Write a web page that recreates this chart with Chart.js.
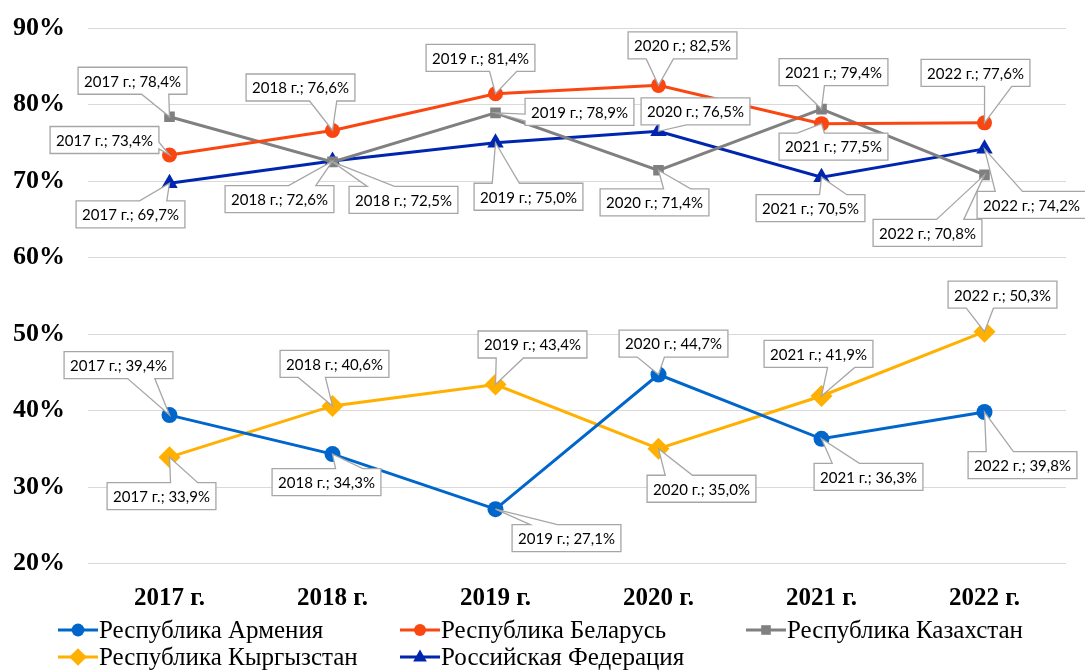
<!DOCTYPE html>
<html>
<head>
<meta charset="utf-8">
<script src="https://cdn.jsdelivr.net/npm/chart.js@4/dist/chart.umd.min.js"></script>
<style>
  html, body { margin: 0; padding: 0; background: #fff; }
  #wrap { width: 1085px; height: 671px; }
</style>
</head>
<body>
<div id="wrap"><canvas id="mycanvas" width="1085" height="671"></canvas></div>
<script>
// categories
var years = ['2017 г.', '2018 г.', '2019 г.', '2020 г.', '2021 г.', '2022 г.'];

// series values, %
var armenia    = [39.4, 34.3, 27.1, 44.7, 36.3, 39.8];
var belarus    = [73.4, 76.6, 81.4, 82.5, 77.5, 77.6];
var kazakhstan = [78.4, 72.5, 78.9, 71.4, 79.4, 70.8];
var kyrgyzstan = [33.9, 40.6, 43.4, 35.0, 41.9, 50.3];
var russia     = [69.7, 72.6, 75.0, 76.5, 70.5, 74.2];

var seriesNames = ['Республика Армения', 'Республика Беларусь', 'Республика Казахстан',
                   'Республика Кыргызстан', 'Российская Федерация'];

// y ticks
var yMin = 20, yMax = 90, yStep = 10;

// where each callout box sits relative to its point (px)
var calloutShift = [
    [[-51,-50], [-6,28], [71,29], [15,-31], [47,38], [38,53]],
    [[-65,-15], [-32,-43], [-15,-36], [24,-40], [12,23], [-9,-50]],
    [[-37,-36], [71,38], [84,-1], [-4,32], [12,-37], [-57,58]],
    [[-8,39], [2,-42], [37,-40], [43,40], [-3,-42], [18,-37]],
    [[-39,31], [-53,38], [33,54], [37,-20], [-11,31], [47,56]]
];

// legend slots
var legendPos = [[58,630], [400,630], [746,630], [58,657], [400,657]];

function fmt(v) { return v.toFixed(1).replace('.', ',') + '%'; }

function drawMarker(ctx, style, x, y, r, color) {
    ctx.save();
    ctx.fillStyle = color;
    ctx.beginPath();
    if (style == 'circle') {
        ctx.arc(x, y, r, 0, Math.PI * 2);
    } else if (style == 'rect') {
        ctx.rect(x - r * 0.8, y - r * 0.8, r * 1.6, r * 1.6);
    } else if (style == 'rectRot') {
        ctx.moveTo(x, y - r); ctx.lineTo(x + r, y); ctx.lineTo(x, y + r); ctx.lineTo(x - r, y);
    } else if (style == 'triangle') {
        ctx.moveTo(x, y - r); ctx.lineTo(x + r * 0.9, y + r * 0.6); ctx.lineTo(x - r * 0.9, y + r * 0.6);
    }
    ctx.closePath();
    ctx.fill();
    ctx.restore();
}

// Excel-like wedge callouts
var callouts = {
    id: 'callouts',
    afterDatasetsDraw: function(chart) {
        var ctx = chart.ctx;
        ctx.save();
        ctx.font = '15px Lato';
        ctx.textAlign = 'center';
        ctx.textBaseline = 'middle';
        chart.data.datasets.forEach(function(ds, di) {
            var meta = chart.getDatasetMeta(di);
            meta.data.forEach(function(pt, i) {
                var txt = years[i] + '; ' + fmt(ds.data[i]);
                var w = ctx.measureText(txt).width + 12, h = 27;
                var cx = pt.x + calloutShift[di][i][0], cy = pt.y + calloutShift[di][i][1];
                var l = cx - w / 2, r = cx + w / 2, t = cy - h / 2, b = cy + h / 2;
                var dx = pt.x - cx, dy = pt.y - cy;
                var dz = Math.abs(dy) - Math.abs(dx * h / w);
                var side = dz > 0 ? (dy < 0 ? 'top' : 'bottom') : (dx < 0 ? 'left' : 'right');
                var x1 = l + w * (dx > 0 ? 7 : 2) / 12, x2 = l + w * (dx > 0 ? 10 : 5) / 12;
                var y1 = t + h * (dy > 0 ? 7 : 2) / 12, y2 = t + h * (dy > 0 ? 10 : 5) / 12;
                ctx.beginPath();
                ctx.moveTo(l, t);
                if (side == 'top') { ctx.lineTo(x1, t); ctx.lineTo(pt.x, pt.y); ctx.lineTo(x2, t); }
                ctx.lineTo(r, t);
                if (side == 'right') { ctx.lineTo(r, y1); ctx.lineTo(pt.x, pt.y); ctx.lineTo(r, y2); }
                ctx.lineTo(r, b);
                if (side == 'bottom') { ctx.lineTo(x2, b); ctx.lineTo(pt.x, pt.y); ctx.lineTo(x1, b); }
                ctx.lineTo(l, b);
                if (side == 'left') { ctx.lineTo(l, y2); ctx.lineTo(pt.x, pt.y); ctx.lineTo(l, y1); }
                ctx.closePath();
                ctx.fillStyle = '#ffffff';
                ctx.fill();
                ctx.strokeStyle = '#a6a6a6';
                ctx.lineWidth = 1.3;
                ctx.stroke();
                ctx.fillStyle = '#000';
                ctx.fillText(txt, cx, cy + 1);
            });
        });
        ctx.restore();
    },
    afterDraw: function(chart) {
        var ctx = chart.ctx;
        ctx.save();
        ctx.font = '25px "Liberation Serif"';
        ctx.textBaseline = 'middle';
        ctx.textAlign = 'left';
        chart.data.datasets.forEach(function(ds, di) {
            var p = legendPos[di];
            ctx.strokeStyle = ds.borderColor;
            ctx.lineWidth = 3;
            ctx.beginPath();
            ctx.moveTo(p[0], p[1]);
            ctx.lineTo(p[0] + 40, p[1]);
            ctx.stroke();
            drawMarker(ctx, ds.pointStyle, p[0] + 20, p[1], ds.pointRadius * 0.8, ds.borderColor);
            ctx.fillStyle = '#000';
            ctx.fillText(ds.label, p[0] + 41, p[1] + 1);
        });
        ctx.restore();
    }
};

var colors = ['#0066cc', '#fa4610', '#808080', '#ffb000', '#0026b0'];
var styles = ['circle', 'circle', 'rect', 'rectRot', 'triangle'];
var radii = [8, 7.5, 7.5, 11, 9.5];
var values = [armenia, belarus, kazakhstan, kyrgyzstan, russia];

var chartdata = {
    labels: years,
    datasets: values.map(function(v, i) {
        return {
            label: seriesNames[i],
            data: v,
            borderColor: colors[i],
            backgroundColor: colors[i],
            borderWidth: 3,
            pointStyle: styles[i],
            pointRadius: radii[i],
            pointBorderWidth: 0,
            pointHoverRadius: radii[i],
            tension: 0,
            fill: false
        };
    })
};

var ctx = document.getElementById('mycanvas');
var LineGraph = new Chart(ctx, {
    type: 'line',
    data: chartdata,
    plugins: [callouts],
    options: {
        responsive: false,
        animation: false,
        devicePixelRatio: 1,
        layout: { padding: { top: 28, right: 19, bottom: 0, left: 0 } },
        plugins: { legend: { display: false }, tooltip: { enabled: false } },
        scales: {
            x: {
                offset: true,
                grid: { display: false },
                border: { display: false },
                ticks: {
                    color: '#000',
                    padding: 12,
                    font: { family: '"Liberation Serif"', size: 25, weight: 'bold' }
                },
                afterFit: function(scale) {
                    scale.height = 107.5;
                    scale.paddingLeft = 0;
                    scale.paddingRight = 0;
                }
            },
            y: {
                min: yMin,
                max: yMax,
                grid: { color: '#d9d9d9', lineWidth: 1, drawTicks: false },
                border: { display: false },
                ticks: {
                    stepSize: yStep,
                    color: '#000',
                    padding: 23,
                    font: { family: '"Liberation Serif"', size: 26, weight: 'bold' },
                    callback: function(v) { return v + '%'; }
                },
                afterFit: function(scale) {
                    scale.width = 88;
                    scale.paddingTop = 0;
                    scale.paddingBottom = 0;
                }
            }
        }
    }
});
</script>
</body>
</html>
